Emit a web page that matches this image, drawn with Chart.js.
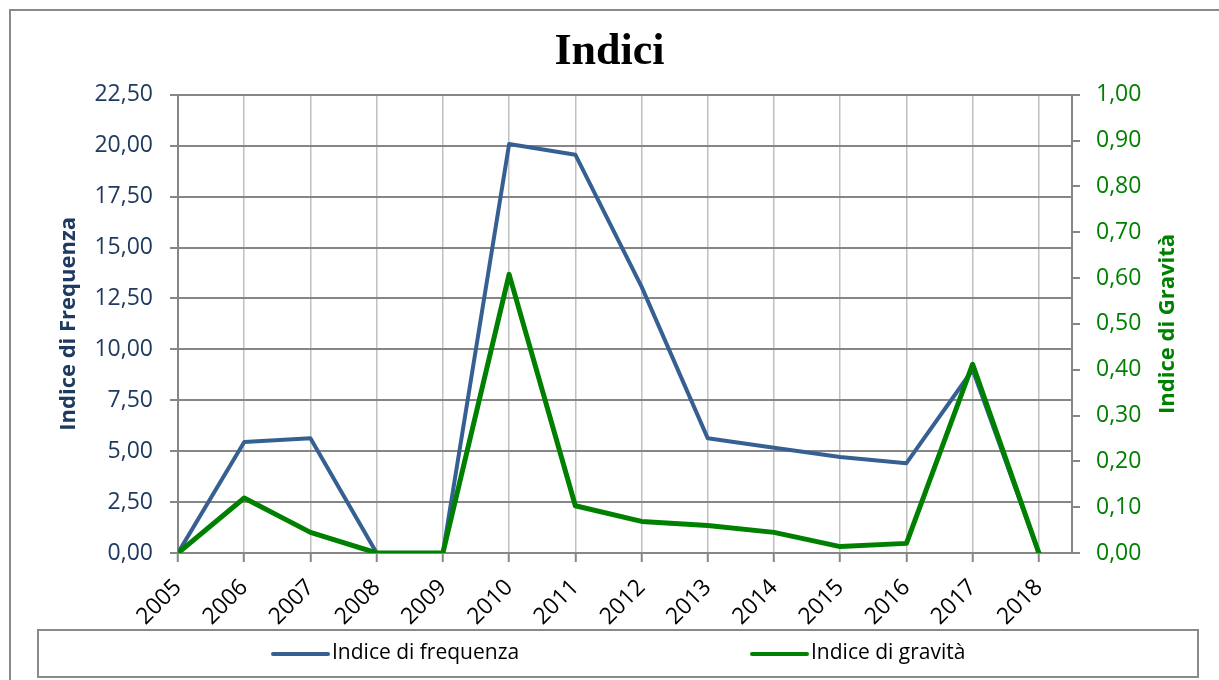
<!DOCTYPE html>
<html lang="it">
<head>
  <meta charset="UTF-8" />
  <title>Indici</title>
  <script src="https://cdn.jsdelivr.net/npm/chart.js@4.4.8/dist/chart.umd.min.js"></script>
  <style>
    html, body { margin: 0; padding: 0; background: #fff; }
    #wrap { width: 1219px; height: 680px; }
  </style>
</head>
<body>
  <div id="wrap"><canvas id="indici" width="1219" height="680"></canvas></div>

  <script>
    // dati
    const anni = ['2005', '2006', '2007', '2008', '2009', '2010', '2011', '2012', '2013', '2014', '2015', '2016', '2017', '2018'];
    const indiceFrequenza = [0, 5.45, 5.64, 0, 0, 20.08, 19.56, 13.08, 5.63, 5.17, 4.71, 4.41, 9.0, 0];
    const indiceGravita = [0, 0.12, 0.045, 0, 0, 0.608, 0.103, 0.069, 0.06, 0.045, 0.014, 0.021, 0.412, 0];

    const BLU = '#376092';
    const VERDE = '#008000';
    const TESTO_BLU = '#1f3a60';
    const GRIGIO = '#868686';

    const virgola = v => Number(v).toFixed(2).replace('.', ',');

    // cornice, titoli degli assi e legenda in riquadro
    const decorazioni = {
      id: 'decorazioni',
      beforeDraw(chart) {
        const ctx = chart.ctx;
        ctx.save();
        ctx.fillStyle = '#fff';
        ctx.fillRect(0, 0, chart.width, chart.height);
        ctx.strokeStyle = '#8a8a8a';
        ctx.lineWidth = 2;
        ctx.strokeRect(10, 10, 1300, 800);
        ctx.restore();
      },
      afterDraw(chart) {
        const ctx = chart.ctx;
        const mid = (chart.chartArea.top + chart.chartArea.bottom) / 2;
        ctx.save();
        ctx.font = 'bold 22px "Open Sans"';
        ctx.textAlign = 'center';
        ctx.textBaseline = 'middle';

        ctx.save();
        ctx.translate(69, mid);
        ctx.rotate(-Math.PI / 2);
        ctx.fillStyle = TESTO_BLU;
        ctx.fillText('Indice di Frequenza', 0, 0);
        ctx.restore();

        ctx.save();
        ctx.translate(1168, mid);
        ctx.rotate(-Math.PI / 2);
        ctx.fillStyle = VERDE;
        ctx.fillText('Indice di Gravità', 0, 0);
        ctx.restore();

        // legenda
        ctx.strokeStyle = '#8a8a8a';
        ctx.lineWidth = 2;
        ctx.strokeRect(38, 630, 1160, 47);
        const voci = [[273, chart.data.datasets[0]], [752, chart.data.datasets[1]]];
        ctx.font = '21px "Open Sans"';
        ctx.textAlign = 'left';
        voci.forEach(([x, ds]) => {
          ctx.beginPath();
          ctx.moveTo(x, 654);
          ctx.lineTo(x + 55, 654);
          ctx.strokeStyle = ds.borderColor;
          ctx.lineWidth = 4;
          ctx.lineCap = 'round';
          ctx.stroke();
          ctx.fillStyle = '#000';
          ctx.fillText(ds.label, x + 59, 653);
        });
        ctx.restore();
      }
    };

    new Chart(document.getElementById('indici'), {
      type: 'line',
      data: {
        datasets: [
          {
            label: 'Indice di frequenza',
            data: indiceFrequenza.map((v, i) => ({ x: i, y: v })),
            borderColor: BLU,
            borderWidth: 4,
            yAxisID: 'yFreq',
            order: 1
          },
          {
            label: 'Indice di gravità',
            data: indiceGravita.map((v, i) => ({ x: i, y: v })),
            borderColor: VERDE,
            borderWidth: 5,
            yAxisID: 'yGrav',
            order: 0
          }
        ]
      },
      options: {
        responsive: false,
        animation: false,
        layout: { padding: 0 },
        elements: {
          point: { radius: 0, hoverRadius: 0 },
          line: { tension: 0, borderJoinStyle: 'round', borderCapStyle: 'round' }
        },
        plugins: {
          legend: { display: false },
          tooltip: { enabled: false },
          title: {
            display: true,
            text: 'Indici',
            color: '#000',
            font: { family: '"Liberation Serif", serif', size: 44, weight: 'bold' },
            padding: { top: 26, bottom: 16 }
          }
        },
        scales: {
          x: {
            type: 'linear',
            min: 0,
            max: 13.5,
            afterFit: s => { s.height = 127; },
            border: { display: false },
            grid: { color: '#c0c0c0', lineWidth: 1.5, tickLength: 9, tickColor: GRIGIO, tickWidth: 2 },
            ticks: {
              stepSize: 1,
              includeBounds: false,
              autoSkip: false,
              minRotation: 45,
              maxRotation: 45,
              padding: 12,
              color: '#000',
              font: { family: '"Open Sans"', size: 23 },
              callback: v => anni[v] ?? ''
            }
          },
          yFreq: {
            position: 'left',
            min: 0,
            max: 22.5,
            afterFit: s => { s.width = 178; },
            border: { display: true, color: GRIGIO, width: 2 },
            grid: { color: GRIGIO, lineWidth: 2, tickLength: 8 },
            ticks: {
              stepSize: 2.5,
              padding: 17,
              color: TESTO_BLU,
              font: { family: '"Open Sans"', size: 23 },
              callback: virgola
            }
          },
          yGrav: {
            position: 'right',
            min: 0,
            max: 1,
            afterFit: s => { s.width = 147; },
            border: { display: true, color: GRIGIO, width: 2 },
            grid: { drawOnChartArea: false, color: GRIGIO, lineWidth: 2, tickLength: 8 },
            ticks: {
              stepSize: 0.1,
              padding: 16,
              color: VERDE,
              font: { family: '"Open Sans"', size: 23 },
              callback: virgola
            }
          }
        }
      },
      plugins: [decorazioni]
    });
  </script>
</body>
</html>
